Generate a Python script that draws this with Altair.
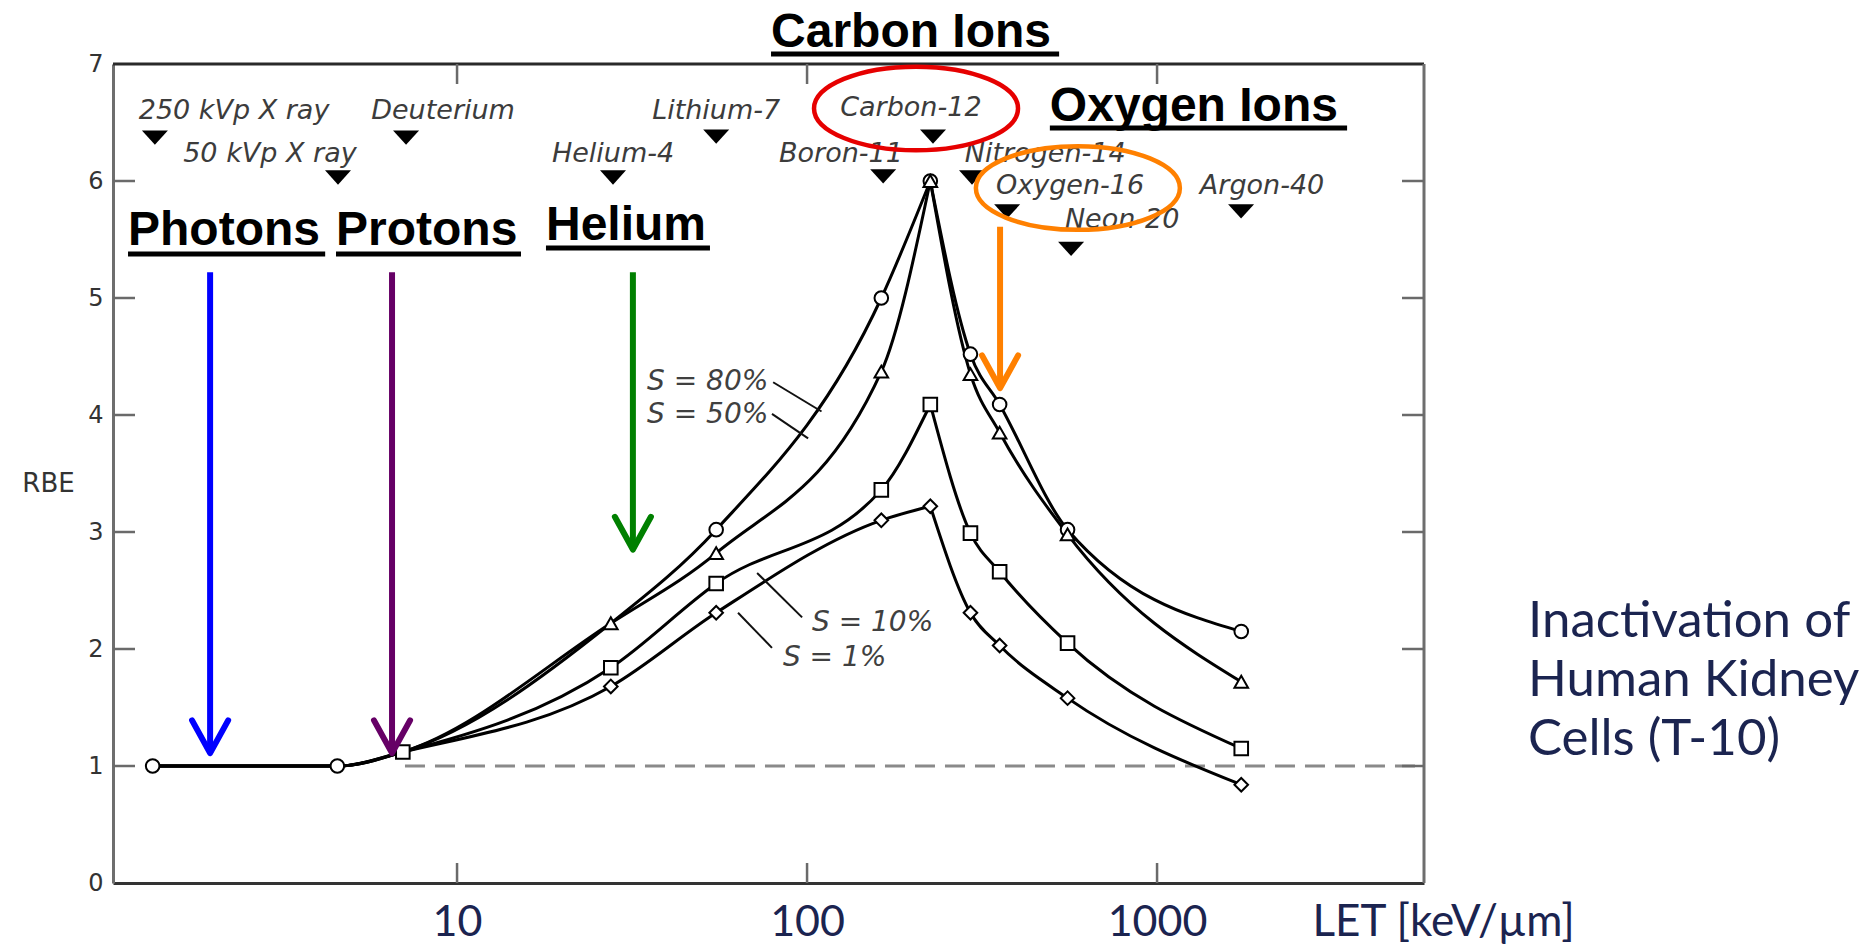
import altair as alt
import pandas as pd

# ---------------------------------------------------------------------------
# RBE versus LET for inactivation of human kidney cells (T-10)
# ---------------------------------------------------------------------------

# Low-LET points shared by every survival level (X rays, deuterons)
BASE_LET = [1.35, 4.55, 7.0]
BASE_RBE = [1.0, 1.0, 1.12]
BASE_SHAPE = ["circle", "circle", "square"]

# Heavy-ion points, LET in keV/µm
ION_LET = [27.5, 55, 163, 225, 293, 355, 555, 1740]
RBE_S80 = [2.22, 3.02, 5.00, 6.00, 4.52, 4.09, 3.02, 2.15]
RBE_S50 = [2.22, 2.82, 4.37, 6.00, 4.35, 3.85, 2.98, 1.72]
RBE_S10 = [1.84, 2.56, 3.36, 4.09, 2.99, 2.66, 2.05, 1.15]
RBE_S1 = [1.68, 2.31, 3.10, 3.22, 2.31, 2.03, 1.58, 0.84]
PEAK_LET = 225

SERIES = ["S = 80%", "S = 50%", "S = 10%", "S = 1%"]
SERIES_RBE = [RBE_S80, RBE_S50, RBE_S10, RBE_S1]
SERIES_SHAPE = ["circle", "triangle-up", "square", "diamond"]
# the 80 % curve carries no symbol at the helium point
SERIES_MARKED = [
    [False, True, True, True, True, True, True, True],
    [True] * 8,
    [True] * 8,
    [True] * 8,
]

# Series labels and their leader lines
S_LABEL_LET = [34.9, 34.9, 103.3, 85.3]
S_LABEL_RBE = [4.28, 4.00, 2.22, 1.92]
LEADER_LET = [80.0, 79.4, 96.8, 79.4]
LEADER_RBE = [4.28, 4.01, 2.27, 2.01]
LEADER_LET2 = [110.0, 100.7, 72.0, 63.5]
LEADER_RBE2 = [4.03, 3.80, 2.65, 2.31]

# Beams along the top: label position and LET marker
ION_NAMES = ["250 kVp X ray", "50 kVp X ray", "Deuterium", "Helium-4", "Lithium-7",
             "Boron-11", "Carbon-12", "Nitrogen-14", "Oxygen-16", "Neon-20", "Argon-40"]
ION_MARK_LET = [1.37, 4.57, 7.15, 27.9, 55.0, 165, 229, 296, 373, 568, 1738]
ION_MARK_RBE = [6.37, 6.03, 6.37, 6.03, 6.38, 6.04, 6.38, 6.03, 5.74, 5.42, 5.74]
ION_LABEL_LET = [2.306, 2.92, 9.12, 27.9, 55.0, 125, 198, 479, 564, 795, 1995]
ION_LABEL_RBE = [6.60, 6.23, 6.60, 6.23, 6.60, 6.23, 6.62, 6.23, 5.96, 5.67, 5.96]

# Highlighted groups
GROUP_TEXT = ["Carbon Ions", "Oxygen Ions", "Photons", "Protons", "Helium"]
GROUP_LET_LEFT = [78.9, 494, 1.148, 4.51, 17.95]
GROUP_LET_RIGHT = [525, 3491, 4.20, 15.23, 52.8]
GROUP_BASE_RBE = [7.145, 6.513, 5.453, 5.453, 5.496]
GROUP_LINE_RBE = [7.085, 6.453, 5.376, 5.376, 5.427]

ARROW_LET = [1.97, 6.52, 31.8, 356]
ARROW_TOP = [5.22, 5.22, 5.22, 5.61]
ARROW_TIP = [1.11, 1.11, 2.85, 4.23]
ARROW_COLOR = ["#0000FF", "#660066", "#008000", "#FF8000"]
HEAD_SPREAD = 1.126   # LET factor from tip to barb end
HEAD_RISE = 0.28      # RBE from tip to barb end

ELLIPSE_LET = [204.8, 594]
ELLIPSE_RBE = [6.62, 5.94]
ELLIPSE_COLOR = ["#E60000", "#FF8000"]

NOTE_LINES = ["Inactivation of", "Human Kidney", "Cells (T-10)"]
NOTE_LET = 11480
NOTE_RBE = [2.103, 1.598, 1.094]

Y_TICKS = [1, 2, 3, 4, 5, 6]
X_TICKS = [10, 100, 1000]

W, H = 1311, 819

# ---------------------------------------------------------------------------
X_SCALE = alt.Scale(type="log", domain=[1.04, 5790], nice=False)
Y_SCALE = alt.Scale(domain=[0, 7], nice=False, zero=False)

X_AXIS = alt.Axis(values=X_TICKS, format="d", grid=False, ticks=False, tickSize=0,
                  domain=True, domainColor="#333333", domainWidth=3,
                  labelFont="Lato", labelFontSize=43, labelColor="#1B2450",
                  labelPadding=52, labelBaseline="alphabetic", labelFlush=False,
                  title="LET [keV/µm]", titleFont="Lato", titleFontSize=44,
                  titleFontWeight="normal", titleColor="#1B2450", titleX=1199, titleY=52,
                  titleAlign="left", titleBaseline="alphabetic", titleAnchor="start")
Y_AXIS = alt.Axis(values=list(range(8)), grid=False, ticks=False, tickSize=0,
                  domain=True, domainColor="#6e6e6e", domainWidth=3,
                  labelFont="DejaVu Sans", labelFontSize=24, labelColor="#333333",
                  labelPadding=10, labelFlush=False,
                  title="RBE", titleFont="DejaVu Sans", titleFontSize=26,
                  titleFontWeight="normal", titleColor="#333333", titleAngle=0,
                  titleX=-65, titleY=419, titleAlign="center", titleBaseline="middle")


def X(field):
    return alt.X(field, type="quantitative", scale=X_SCALE, axis=X_AXIS)


def Y(field):
    return alt.Y(field, type="quantitative", scale=Y_SCALE, axis=Y_AXIS)


# curve table: each curve split at the peak so the apex stays sharp
rows = []
for name, rbe in zip(SERIES, SERIES_RBE):
    for L, R in zip(BASE_LET + ION_LET, BASE_RBE + rbe):
        if L <= PEAK_LET:
            rows.append({"key": name + " rise", "LET": L, "RBE": R})
        if L >= PEAK_LET:
            rows.append({"key": name + " fall", "LET": L, "RBE": R})
curve_df = pd.DataFrame(rows)

mrows = [{"LET": L, "RBE": R, "shape": s} for L, R, s in zip(BASE_LET, BASE_RBE, BASE_SHAPE)]
for rbe, shape, marked in zip(SERIES_RBE, SERIES_SHAPE, SERIES_MARKED):
    for L, R, m in zip(ION_LET, rbe, marked):
        if m:
            mrows.append({"LET": L, "RBE": R, "shape": shape})
marker_df = pd.DataFrame(mrows)

curves = alt.Chart(curve_df).mark_line(color="black", strokeWidth=3, interpolate="monotone").encode(
    x=X("LET"), y=Y("RBE"), detail="key:N", order="LET:Q")

markers = alt.Chart(marker_df).mark_point(
    filled=True, fill="white", stroke="black", strokeWidth=2, size=185, opacity=1
).encode(x=X("LET"), y=Y("RBE"), shape=alt.Shape("shape:N", scale=None))

# unit reference line
ref_df = pd.DataFrame({"LET": [7.1], "LET2": [5790], "RBE": [1.0]})
ref = alt.Chart(ref_df).mark_rule(color="#8a8a8a", strokeWidth=3, strokeDash=[20, 10]).encode(
    x=X("LET"), x2="LET2", y=Y("RBE"))

# frame
top_line = alt.Chart(pd.DataFrame({"a": [0]})).mark_rule(color="#2a2a2a", strokeWidth=3).encode(
    x=alt.value(0), x2=alt.value(W), y=alt.value(0))
right_line = alt.Chart(pd.DataFrame({"a": [0]})).mark_rule(color="#6e6e6e", strokeWidth=3).encode(
    x=alt.value(W), y=alt.value(0), y2=alt.value(H))

yt = pd.DataFrame({"v": Y_TICKS})
xt = pd.DataFrame({"v": X_TICKS})
tick_style = dict(color="#6a6a6a", strokeWidth=2.5)
ticks_left = alt.Chart(yt).mark_rule(**tick_style).encode(
    x=alt.value(0), x2=alt.value(22), y=Y("v"))
ticks_right = alt.Chart(yt).mark_rule(**tick_style).encode(
    x=alt.value(W - 22), x2=alt.value(W), y=Y("v"))
ticks_bottom = alt.Chart(xt).mark_rule(**tick_style).encode(
    x=X("v"), y=alt.value(H - 20), y2=alt.value(H))
ticks_top = alt.Chart(xt).mark_rule(**tick_style).encode(
    x=X("v"), y=alt.value(0), y2=alt.value(20))

# series labels
s_df = pd.DataFrame({"t": SERIES, "LET": S_LABEL_LET, "RBE": S_LABEL_RBE})
s_text = alt.Chart(s_df).mark_text(
    font="DejaVu Sans", fontStyle="italic", fontSize=28, color="#404040",
    align="left", baseline="middle").encode(x=X("LET"), y=Y("RBE"), text="t:N")
lead_df = pd.DataFrame({"LET": LEADER_LET, "RBE": LEADER_RBE,
                        "LET2": LEADER_LET2, "RBE2": LEADER_RBE2})
leaders = alt.Chart(lead_df).mark_rule(color="#111111", strokeWidth=2).encode(
    x=X("LET"), y=Y("RBE"), x2="LET2", y2="RBE2")

# beam labels and their LET markers
ion_df = pd.DataFrame({"t": ION_NAMES, "LET": ION_LABEL_LET, "RBE": ION_LABEL_RBE,
                       "mLET": ION_MARK_LET, "mRBE": ION_MARK_RBE})
ion_text = alt.Chart(ion_df).mark_text(
    font="DejaVu Sans", fontStyle="italic", fontSize=27, color="#3c3c3c",
    align="center", baseline="middle").encode(x=X("LET"), y=Y("RBE"), text="t:N")
ion_marks = alt.Chart(ion_df).mark_point(
    shape="M -1 -0.55 L 1 -0.55 L 0 0.55 Z", filled=True, color="black", size=676, opacity=1
).encode(x=X("mLET"), y=Y("mRBE"))

# highlighted group names, underlined
grp_df = pd.DataFrame({"t": GROUP_TEXT, "L": GROUP_LET_LEFT, "R": GROUP_LET_RIGHT,
                       "base": GROUP_BASE_RBE, "line": GROUP_LINE_RBE})
grp_text = alt.Chart(grp_df).mark_text(
    font="Liberation Sans", fontWeight="bold", fontSize=48, color="black",
    align="left", baseline="alphabetic").encode(x=X("L"), y=Y("base"), text="t:N")
grp_line = alt.Chart(grp_df).mark_rule(color="black", strokeWidth=5).encode(
    x=X("L"), x2="R", y=Y("line"))

# arrows
arr_df = pd.DataFrame({"a": list(range(len(ARROW_LET))), "LET": ARROW_LET,
                       "top": ARROW_TOP, "tip": ARROW_TIP, "color": ARROW_COLOR})
shafts = alt.Chart(arr_df).mark_rule(strokeWidth=6).encode(
    x=X("LET"), y=Y("top"), y2="tip", color=alt.Color("color:N", scale=None))
hrows = []
for i, (L, tip, c) in enumerate(zip(ARROW_LET, ARROW_TIP, ARROW_COLOR)):
    hrows.append({"a": i, "k": 0, "LET": L / HEAD_SPREAD, "RBE": tip + HEAD_RISE, "color": c})
    hrows.append({"a": i, "k": 1, "LET": L, "RBE": tip, "color": c})
    hrows.append({"a": i, "k": 2, "LET": L * HEAD_SPREAD, "RBE": tip + HEAD_RISE, "color": c})
heads = alt.Chart(pd.DataFrame(hrows)).mark_line(
    strokeWidth=6, strokeCap="round", strokeJoin="round").encode(
    x=X("LET"), y=Y("RBE"), detail="a:N", order="k:Q",
    color=alt.Color("color:N", scale=None))

# ellipses around carbon and oxygen beams
ell_df = pd.DataFrame({"LET": ELLIPSE_LET, "RBE": ELLIPSE_RBE, "color": ELLIPSE_COLOR})
ellipses = alt.Chart(ell_df).mark_point(
    shape="M -1 0 A 1 0.41 0 0 1 1 0 A 1 0.41 0 0 1 -1 0 Z",
    size=41616, filled=False, strokeWidth=4.5, opacity=1
).encode(x=X("LET"), y=Y("RBE"), color=alt.Color("color:N", scale=None))

note_df = pd.DataFrame({"t": NOTE_LINES, "LET": [NOTE_LET] * 3, "RBE": NOTE_RBE})
note = alt.Chart(note_df).mark_text(
    font="Lato", fontSize=51, color="#1B2450", align="left", baseline="alphabetic"
).encode(x=X("LET"), y=Y("RBE"), text="t:N")

chart = alt.layer(
    ref, curves, markers, top_line, right_line,
    ticks_left, ticks_right, ticks_bottom, ticks_top,
    leaders, s_text, ion_text, ion_marks, grp_text, grp_line,
    shafts, heads, ellipses, note,
).properties(
    width=W, height=H,
    padding={"left": 113, "top": 64, "right": 445, "bottom": 61},
    autosize=alt.AutoSizeParams(type="none"),
    background="white",
).configure_view(stroke=None)

chart.save("out.html", embed_options={"renderer": "svg", "actions": False})
